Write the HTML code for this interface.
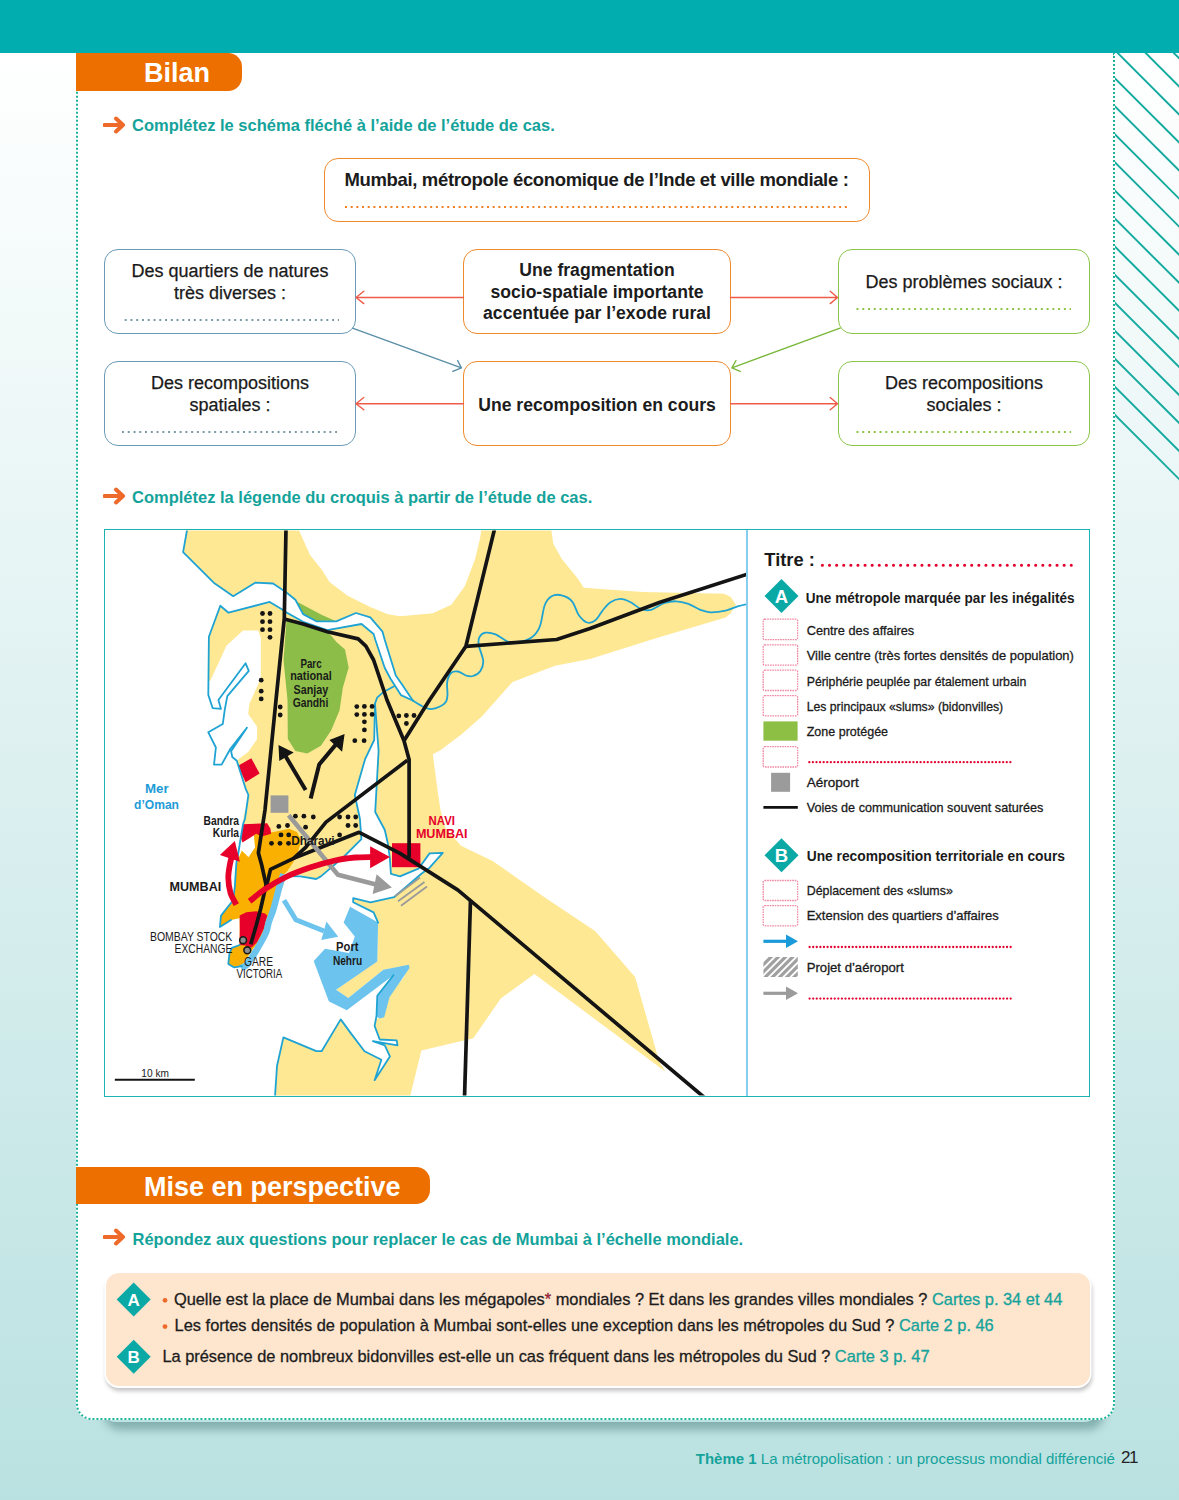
<!DOCTYPE html>
<html><head><meta charset="utf-8">
<style>
*{box-sizing:border-box;margin:0;padding:0}
html,body{width:1179px;height:1500px;overflow:hidden}
body{position:relative;font-family:"Liberation Sans",sans-serif;background:linear-gradient(to bottom,#ffffff 0px,#ffffff 53px,#bae1e1 1500px);}
.abs{position:absolute}
#topbar{left:0;top:0;width:1179px;height:53px;background:#02adaf}
#panelshadow{left:100px;top:1400px;width:1000px;height:22px;border-radius:0 0 16px 16px;box-shadow:4px 8px 9px rgba(0,60,60,0.3)}
#panel{left:76px;top:53px;width:1039px;height:1367px;background:#fff;border:2px dotted #1db39b;border-top:none;border-radius:0 0 16px 16px}
.tab{background:#ec6f00;color:#fff;font-weight:bold;border-radius:0 14px 14px 0}
.instr{color:#14a39b;font-weight:bold;font-size:16.5px;white-space:nowrap}
.box{position:absolute;border:1.8px solid;border-radius:14px;background:#fff;text-align:center;font-size:17.5px;color:#1a1a1a}
.orange{border-color:#ef8a2e}
.blue{border-color:#6a9cb8}
.green{border-color:#8cc54a}
.t18{font-size:18px;line-height:21.5px;color:#1a1a1a;white-space:nowrap;-webkit-text-stroke:0.25px #1a1a1a}
.t18b{font-size:17.6px;line-height:21.5px;font-weight:bold;color:#1c1c1c;white-space:nowrap}
.c{text-align:center}
.q{font-size:16.4px;line-height:20px;color:#1c1c1c;white-space:nowrap;-webkit-text-stroke:0.3px #1c1c1c}
.q .tl{-webkit-text-stroke:0.3px #14a39b}
.tl{color:#14a39b}
</style></head>
<body>
<div id="topbar" class="abs"></div>
<svg class="abs" style="left:1114px;top:53px" width="65" height="440" viewBox="0 0 65 440">
  <g stroke="#12a99e" stroke-width="1.9" fill="none">
<line x1="0" y1="361.0" x2="70" y2="431.0"/>
<line x1="0" y1="332.9" x2="70" y2="402.9"/>
<line x1="0" y1="304.9" x2="70" y2="374.9"/>
<line x1="0" y1="276.9" x2="70" y2="346.9"/>
<line x1="0" y1="248.8" x2="70" y2="318.8"/>
<line x1="0" y1="220.8" x2="70" y2="290.8"/>
<line x1="0" y1="192.7" x2="70" y2="262.7"/>
<line x1="0" y1="164.7" x2="70" y2="234.7"/>
<line x1="0" y1="136.6" x2="70" y2="206.6"/>
<line x1="0" y1="108.5" x2="70" y2="178.5"/>
<line x1="0" y1="80.5" x2="70" y2="150.5"/>
<line x1="0" y1="52.4" x2="70" y2="122.4"/>
<line x1="0" y1="24.4" x2="70" y2="94.4"/>
<line x1="0" y1="-3.7" x2="70" y2="66.3"/>
<line x1="0" y1="-31.7" x2="70" y2="38.3"/>
<line x1="0" y1="-59.8" x2="70" y2="10.2"/>
  </g>
</svg>
<div id="panelshadow" class="abs"></div>
<div id="panel" class="abs"></div>

<div class="abs tab" style="left:76px;top:53px;width:166px;height:38px;font-size:27px;line-height:41px;padding-left:68px">Bilan</div>


<!-- instruction 1 -->
<svg class="abs" style="left:103px;top:116px" width="25" height="18" viewBox="0 0 25 18"><path d="M1.5 9 H20 M13 2.5 L20 9 L13 15.5" stroke="#ee6a2a" stroke-width="4" fill="none" stroke-linecap="round" stroke-linejoin="round"/></svg>
<div class="abs instr" style="left:132px;top:115px;line-height:20px">Complétez le schéma fléché à l’aide de l’étude de cas.</div>

<!-- diagram boxes -->
<div class="box orange" style="left:324px;top:158px;width:546px;height:64px"></div>
<div class="abs t18b" style="left:344.5px;top:169px;white-space:nowrap;font-size:18.5px;letter-spacing:-0.35px">Mumbai, métropole économique de l’Inde et ville mondiale :</div>

<div class="box blue" style="left:104px;top:249px;width:252px;height:85px"></div>
<div class="abs t18 c" style="left:104px;width:252px;top:261px">Des quartiers de natures<br>très diverses :</div>

<div class="box orange" style="left:463px;top:249px;width:268px;height:85px"></div>
<div class="abs t18b c" style="left:463px;width:268px;top:260px">Une fragmentation<br>socio-spatiale importante<br>accentuée par l’exode rural</div>

<div class="box green" style="left:838px;top:249px;width:252px;height:85px"></div>
<div class="abs t18 c" style="left:838px;width:252px;top:272px">Des problèmes sociaux :</div>

<div class="box blue" style="left:104px;top:361px;width:252px;height:85px"></div>
<div class="abs t18 c" style="left:104px;width:252px;top:373px">Des recompositions<br>spatiales :</div>

<div class="box orange" style="left:463px;top:361px;width:268px;height:85px"></div>
<div class="abs t18b c" style="left:463px;width:268px;top:395px">Une recomposition en cours</div>

<div class="box green" style="left:838px;top:361px;width:252px;height:85px"></div>
<div class="abs t18 c" style="left:838px;width:252px;top:373px">Des recompositions<br>sociales :</div>

<svg class="abs" style="left:0;top:0" width="1179" height="470" viewBox="0 0 1179 470">
 <g fill="none" stroke-linecap="butt" stroke-linejoin="round">
  <line x1="345" y1="207" x2="848" y2="207" stroke="#ee7f22" stroke-width="2" stroke-dasharray="2 3.68"/>
  <line x1="124.7" y1="320" x2="339" y2="320" stroke="#7d9aa8" stroke-width="2" stroke-dasharray="2 3.76"/>
  <line x1="122" y1="432" x2="337" y2="432" stroke="#7d9aa8" stroke-width="2" stroke-dasharray="2 3.76"/>
  <line x1="856.5" y1="309" x2="1071" y2="309" stroke="#8cc54a" stroke-width="2" stroke-dasharray="2 3.76"/>
  <line x1="856.5" y1="432" x2="1071" y2="432" stroke="#8cc54a" stroke-width="2" stroke-dasharray="2 3.76"/>
 </g>
 <g fill="none" stroke="#ef5b4a" stroke-width="1.4" stroke-linecap="round" stroke-linejoin="round">
  <path d="M463.5 297.5 H356 M363.8 291.3 L356 297.5 L363.8 303.6"/>
  <path d="M730.5 297.5 H837.5 M830.2 291.3 L837.5 297.5 L830.2 303.6"/>
  <path d="M463.5 403.7 H356 M363.8 397.5 L356 403.7 L363.8 409.8"/>
  <path d="M730.5 403.7 H837.5 M830.2 397.5 L837.5 403.7 L830.2 409.8"/>
 </g>
 <path d="M352.5 328.1 L461.4 367.9 M457.6 360.5 L461.4 367.9 L452.8 371.4" fill="none" stroke="#5a8ea8" stroke-width="1.4" stroke-linecap="round" stroke-linejoin="round"/>
 <path d="M840 328.1 L731.9 367.9 M736 360.5 L731.9 367.9 L740.2 371.4" fill="none" stroke="#7ab83a" stroke-width="1.4" stroke-linecap="round" stroke-linejoin="round"/>
</svg>


<!-- instruction 2 -->
<svg class="abs" style="left:103px;top:487px" width="25" height="18" viewBox="0 0 25 18"><path d="M1.5 9 H20 M13 2.5 L20 9 L13 15.5" stroke="#ee6a2a" stroke-width="4" fill="none" stroke-linecap="round" stroke-linejoin="round"/></svg>
<div class="abs instr" style="left:132px;top:487px;line-height:20px">Complétez la légende du croquis à partir de l’étude de cas.</div>
<div class="abs" style="left:104px;top:529px;width:986px;height:568px;border:1.8px solid #1ab3b1;background:#fff"></div>
<div class="abs" style="left:746px;top:530px;width:1.6px;height:566px;background:#86cdef"></div>

<svg class="abs" style="left:0;top:0" width="1179" height="1100" viewBox="0 0 1179 1100">
<defs><clipPath id="mc"><rect x="105" y="530.5" width="641" height="565"/></clipPath></defs>
<g clip-path="url(#mc)">
<path fill="#fee894" d="M187.4,520.0 L294.4,520.0 L310.0,555.0 L322.0,570.0 L329.5,582.0 L347.2,595.4 L369.2,606.4 L387.0,614.0 L400.0,616.3 L432.7,613.2 L451.3,604.7 L464.9,586.1 L475.1,558.9 L480.0,538.6 L482.9,520.0 L549.9,520.0 L553.3,543.7 L561.8,558.9 L577.0,577.6 L583.8,587.8 L643.2,592.0 L724.0,593.7 L730.8,597.1 L735.9,604.7 L730.8,613.2 L725.7,617.5 L660.0,637.0 L590.0,659.0 L555.0,665.8 L512.6,681.9 L503.1,692.6 L482.1,716.3 L461.0,734.7 L440.0,750.4 L432.8,754.3 L437.5,790.0 L440.5,810.0 L445.5,828.0 L461.0,845.8 L492.6,860.9 L545.2,897.7 L595.4,931.3 L635.1,977.1 L659.5,1062.6 L665.6,1071.8 L534.4,974.0 L500.8,998.5 L473.3,1038.2 L421.4,1050.4 L409.2,1100.0 L275.0,1100.0 L277.0,1066.0 L283.4,1037.4 L316.3,1051.2 L321.6,1051.2 L340.7,1019.4 L350.0,1032.1 L364.5,1051.3 L381.4,1059.8 L374.6,1080.2 L389.9,1056.4 L384.8,1045.4 L372.9,1041.2 L397.5,1045.4 L396.7,1040.3 L379.7,1039.5 L374.6,1025.9 L375.5,1019.0 L383.7,1017.0 L387.4,997.3 L404.0,977.0 L408.0,965.6 L383.4,969.8 L348.3,998.1 L336.1,989.7 L377.2,961.0 L378.1,922.6 L373.6,912.4 L353.2,902.3 L353.2,898.2 L370.5,902.3 L394.0,897.2 L421.4,873.8 L429.6,867.7 L442.8,852.9 L429.6,853.4 L418.4,868.7 L400.0,876.3 L390.9,873.8 L389.9,858.5 L387.8,843.2 L384.8,830.0 L375.2,812.0 L378.6,750.9 L375.5,703.6 L374.2,740.0 L365.0,759.4 L354.8,795.0 L359.9,818.7 L361.4,839.2 L344.1,856.5 L320.9,876.4 L316.2,879.0 L295.9,874.0 L287.0,876.0 L282.6,887.0 L276.0,909.0 L270.5,920.0 L267.2,934.3 L257.3,949.7 L246.3,964.0 L241.9,966.2 L234.2,967.4 L228.3,963.9 L229.5,953.2 L231.9,947.9 L239.6,945.0 L239.8,930.0 L239.7,918.0 L231.0,920.0 L219.9,927.0 L221.0,915.6 L233.1,900.2 L234.8,887.0 L236.4,862.8 L241.9,850.7 L248.5,857.3 L255.1,847.4 L254.0,835.3 L241.9,841.9 L240.8,837.5 L243.0,824.3 L244.1,810.0 L245.0,818.7 L248.4,795.0 L245.6,788.6 L236.8,760.5 L248.2,751.9 L257.0,739.2 L257.0,726.6 L248.2,713.9 L249.4,703.8 L260.8,678.5 L260.8,638.0 L258.3,630.4 L243.1,630.4 L226.6,645.6 L210.2,681.0 L208.5,681.0 L208.9,636.7 L220.3,605.7 L233.2,596.2 L213.7,582.7 L183.1,552.1 Z"/>
<path fill="#fff" d="M233.2,596.2 L255.2,582.7 L273.0,583.5 L285.8,592.0 L295.4,599.8 L303.1,614.1 L316.3,621.3 L336.2,621.3 L356.0,613.0 L370.3,617.4 L382.5,631.7 L384.8,640.0 L395.8,675.6 L401.7,684.1 L412.8,700.5 L400.9,695.1 L390.7,679.0 L384.8,668.0 L375.4,640.0 L373.6,634.0 L361.5,624.0 L327.3,630.1 L303.1,621.8 L285.4,611.9 L282.3,609.5 L269.7,601.9 L228.5,612.7 L220.3,605.7 Z"/>
<path fill="#8bbd48" d="M286.5,620.7 L303.1,624.5 L327.3,632.2 L331.7,636.2 L336.2,641.7 L345.0,649.4 L348.7,667.5 L342.8,687.8 L339.6,710.2 L331.1,730.5 L320.9,745.8 L307.3,753.4 L295.4,750.9 L287.8,739.0 L287.5,700.0 L283.5,660.0 Z"/>
<path fill="#8bbd48" d="M296.5,601.4 L303.1,614.1 L316.3,621.3 L336.2,621.3 L322.0,615.0 Z"/>
<path fill="#6cc4ee" d="M350.1,906.8 L378.1,922.6 L377.3,961.5 L336.1,989.7 L348.3,998.1 L383.4,969.8 L408.8,964.8 L409.5,968.0 L389.5,997.3 L384.2,1017.2 L379.6,1018.5 L376.6,1016.4 L377.3,995.8 L393.4,975.2 L346.8,1010.3 L330.0,1001.9 L328.7,1001.0 L313.7,960.9 L325.0,948.8 L349.0,953.0 L354.8,936.6 L343.6,922.6 Z"/>
<path fill="#f9b000" d="M256.2,833.7 L273.8,832.0 L289.2,828.7 L296.9,832.0 L301.3,840.8 L298.0,851.8 L293.6,861.7 L287.0,871.6 L282.0,876.0 L279.0,884.8 L273.5,902.4 L269.5,914.5 L265.5,928.8 L259.0,942.0 L251.8,950.0 L248.0,956.0 L244.0,963.0 L241.9,966.5 L234.2,967.4 L228.3,963.9 L229.5,953.2 L231.9,947.9 L239.6,945.0 L239.8,930.0 L239.7,918.0 L231.0,920.0 L219.9,927.0 L221.0,915.6 L233.1,900.2 L234.8,887.0 L236.4,862.8 L241.9,850.7 L248.5,857.3 L255.1,847.4 L254.0,835.3 Z"/>
<path fill="#e6002a" d="M243.0,824.3 L267.2,823.2 L270.5,828.7 L271.1,833.7 L261.7,836.4 L256.2,833.7 L254.0,835.3 L242.5,842.5 L240.8,837.5 Z"/>
<path fill="#e6002a" d="M239.7,915.6 L246.3,912.3 L256.2,911.2 L265.0,913.4 L267.2,915.6 L263.9,928.8 L257.3,942.0 L251.8,947.5 L245.0,945.5 L239.6,945.0 L239.8,930.0 Z"/>
<path fill="#e6002a" d="M238.0,765.8 L251.3,758.2 L259.6,773.4 L245.6,782.3 Z"/>
<rect x="392" y="843.2" width="28.4" height="24" fill="#e6002a"/>
<path fill="none" stroke="#6cc4ee" stroke-width="6.5" stroke-linejoin="round" d="M283.5,874.0 C283.2,875.0 282.3,877.3 281.5,880.0 C280.7,882.7 279.8,885.2 278.5,890.0 C277.2,894.8 275.1,903.7 273.5,909.0 C271.9,914.3 270.1,918.0 268.8,922.0 C267.5,926.0 267.9,928.3 265.8,933.0 C263.8,937.7 259.6,944.8 256.5,950.0 C253.4,955.2 249.6,961.5 247.0,964.5 C244.4,967.5 242.0,967.4 241.0,968.0"/>
<g fill="none" stroke="#1fa3d3" stroke-width="1.8" stroke-linejoin="round" stroke-linecap="round">
<path d="M187.4,528.0 L183.1,552.1 L213.7,582.7 L233.2,596.2 L255.2,582.7 L273.0,583.5 L285.8,592.0 L295.4,599.8 L303.1,614.1 L316.3,621.3 L336.2,621.3 L356.0,613.0 L370.3,617.4 L382.5,631.7 L384.8,640.0 L395.8,675.6 L401.7,684.1 L412.8,700.5"/>
<path d="M412.8,700.5 L400.9,695.1 L390.7,679.0 L384.8,668.0 L375.4,640.0 L373.6,634.0 L361.5,624.0 L327.3,630.1 L303.1,621.8 L285.4,611.9 L282.3,609.5 L269.7,601.9 L228.5,612.7 L220.3,605.7 L208.9,636.7 L208.3,694.9 L212.7,708.2 L221.0,708.9 L218.4,700.0 L245.6,663.3 L248.8,670.9 L227.3,696.2 L224.7,710.1 L222.8,724.0 L208.3,732.3 L215.9,747.5 L214.0,764.6 L221.6,764.6 L230.4,748.7 L246.9,727.8 L231.1,751.3 L232.3,757.0 L236.8,760.8 L245.6,788.6 L248.4,795.0 L245.0,818.7 L243.0,824.3 L240.8,837.5 L238.0,855.0 L236.4,862.8 L234.8,887.0 L233.1,900.2 L221.0,915.6 L219.9,927.0 L231.0,920.0"/>
<path d="M239.6,945.0 L231.9,947.9 L229.5,953.2 L228.3,963.9 L234.2,967.4 L241.9,966.2"/>
<path d="M394.1,686.2 L383.9,691.7 L377.1,697.7 L375.0,703.6 L374.2,740.0 L365.0,759.4 L354.8,795.0 L359.9,818.7 L361.4,839.2 L344.1,856.5 L320.9,876.4 L316.2,879.0 L300.5,876.4 L287.0,876.0"/>
<path d="M375.0,703.6 L378.6,750.9 L375.2,812.0 L384.8,830.0 L387.8,843.2 L389.9,858.5 L390.9,873.8 L400.0,876.3 L418.4,868.7 L429.6,853.4 L442.8,852.9 L429.6,867.7 L421.4,873.8 L394.0,897.2 L370.5,902.3 L353.2,898.2 L353.2,902.3 L373.6,912.4 L378.1,922.6"/>
<path d="M274.9,1098.0 L277.0,1066.0 L283.4,1037.4 L316.3,1051.2 L321.6,1051.2 L340.7,1019.4 L350.0,1032.1 L364.5,1051.3 L381.4,1059.8 L374.6,1080.2 L389.9,1056.4 L384.8,1045.4 L372.9,1041.2 L397.5,1045.4 L396.7,1040.3 L379.7,1039.5 L374.6,1025.9 L376.5,1016.0 L377.3,995.8 L393.4,975.2"/>
<path d="M412.8,700.5 C414.6,701.6 420.8,705.6 423.8,707.0 C426.8,708.4 428.3,709.2 431.0,709.1 C433.7,709.0 437.5,707.7 440.0,706.5 C442.5,705.3 444.6,703.9 445.8,702.0 C447.1,700.1 447.3,698.4 447.5,695.1 C447.7,691.8 446.6,685.7 447.2,682.0 C447.8,678.3 449.2,674.8 451.0,673.0 C452.8,671.2 455.5,671.1 458.0,671.5 C460.5,671.9 463.5,674.8 466.0,675.5 C468.5,676.2 470.6,676.8 473.0,676.0 C475.4,675.2 478.7,673.4 480.4,670.9 C482.1,668.4 483.5,665.0 483.2,660.7 C482.9,656.4 479.3,649.0 478.7,645.0 C478.1,641.0 478.4,639.0 479.5,637.0 C480.6,635.0 482.7,633.1 485.4,632.7 C488.1,632.3 491.9,632.9 495.6,634.4 C499.3,635.9 503.8,640.2 507.5,641.5 C511.2,642.8 514.0,642.6 518.0,642.0 C522.0,641.4 527.6,640.2 531.2,637.7 C534.8,635.2 537.4,632.2 539.7,626.8 C542.0,621.3 542.8,610.1 544.8,605.0 C546.8,599.9 548.8,597.8 551.6,596.2 C554.4,594.6 558.4,594.5 561.8,595.4 C565.2,596.2 569.2,598.0 572.0,601.3 C574.8,604.5 576.2,611.4 578.7,614.9 C581.2,618.4 584.4,621.6 587.2,622.5 C590.0,623.4 593.1,622.1 595.7,620.0 C598.3,617.9 600.5,613.0 603.0,610.0 C605.5,607.0 607.5,604.1 610.4,602.2 C613.3,600.3 617.1,598.8 620.5,598.8 C623.9,598.8 627.3,600.5 630.7,602.2 C634.1,603.9 637.5,607.7 640.9,609.0 C644.3,610.3 647.1,610.8 651.1,609.8 C655.1,608.8 660.4,604.4 664.6,603.0 C668.8,601.6 672.5,601.1 676.5,601.3 C680.5,601.4 684.4,602.5 688.4,603.9 C692.4,605.3 696.6,608.4 700.3,609.8 C704.0,611.2 706.2,612.2 710.4,612.4 C714.6,612.5 721.2,611.7 725.7,610.7 C730.2,609.7 733.9,607.5 737.6,606.4 C741.3,605.3 746.3,604.3 748.0,603.9"/>
</g>
<path d="M284,900.2 L295.9,919.7 L324,931" fill="none" stroke="#6cc4ee" stroke-width="5"/>
<path d="M338.3,936.7 L326.4,921.4 L321.3,940.1 Z" fill="#6cc4ee"/>
<g fill="none" stroke="#141414" stroke-width="3.7" stroke-linejoin="round">
<path d="M286.0,528.0 L284.3,618.5 L276.0,700.0 L265.0,810.0 L258.4,852.9 L261.7,865.0 L266.1,884.8 L260.6,909.0 L256.2,925.5 L250.7,944.2"/>
<path d="M266.5,886.0 L270.5,869.4 L293.6,858.4 L305.7,847.4 L326.0,822.1 L407.4,760.2"/>
<path d="M293.6,858.4 L310.0,851.8 L359.1,832.3 L400.0,853.4 L458.0,890.1 L705.0,1098.0"/>
<path d="M284.3,619.0 L303.1,624.0 L327.3,631.7 L358.2,638.9 L365.9,646.1 L373.6,660.0 L387.0,700.0 L404.0,740.7 L409.1,759.4 L409.1,857.5"/>
<path d="M494.8,528.0 L465.9,646.3 L429.5,700.0 L404.0,740.7"/>
<path d="M465.9,646.3 L556.7,639.5 L590.0,628.5 L660.0,602.2 L748.0,574.0"/>
<path d="M470.5,900.0 L464.5,1098.0"/>
</g>
<line x1="114.8" y1="1079.8" x2="194.8" y2="1079.8" stroke="#141414" stroke-width="2"/>
<g fill="#141414">
<circle cx="262.5" cy="613.5" r="2.4"/>
<circle cx="270.0" cy="613.5" r="2.4"/>
<circle cx="262.5" cy="621.7" r="2.4"/>
<circle cx="270.0" cy="621.7" r="2.4"/>
<circle cx="262.5" cy="629.7" r="2.4"/>
<circle cx="270.0" cy="629.7" r="2.4"/>
<circle cx="270.0" cy="637.3" r="2.4"/>
<circle cx="261.2" cy="680.2" r="2.4"/>
<circle cx="261.2" cy="691.2" r="2.4"/>
<circle cx="261.2" cy="698.9" r="2.4"/>
<circle cx="280.2" cy="707.0" r="2.4"/>
<circle cx="280.2" cy="715.0" r="2.4"/>
<circle cx="356.8" cy="706.6" r="2.4"/>
<circle cx="364.4" cy="706.4" r="2.4"/>
<circle cx="372.1" cy="706.4" r="2.4"/>
<circle cx="356.8" cy="714.6" r="2.4"/>
<circle cx="364.4" cy="714.4" r="2.4"/>
<circle cx="372.1" cy="714.4" r="2.4"/>
<circle cx="364.4" cy="721.8" r="2.4"/>
<circle cx="364.4" cy="729.9" r="2.4"/>
<circle cx="354.8" cy="740.7" r="2.4"/>
<circle cx="364.1" cy="740.7" r="2.4"/>
<circle cx="398.8" cy="715.9" r="2.4"/>
<circle cx="406.4" cy="715.5" r="2.4"/>
<circle cx="414.0" cy="715.5" r="2.4"/>
<circle cx="406.4" cy="723.5" r="2.4"/>
<circle cx="295.4" cy="816.2" r="2.4"/>
<circle cx="303.9" cy="816.2" r="2.4"/>
<circle cx="313.3" cy="817.0" r="2.4"/>
<circle cx="278.8" cy="826.4" r="2.4"/>
<circle cx="287.5" cy="825.5" r="2.4"/>
<circle cx="305.6" cy="827.2" r="2.4"/>
<circle cx="339.6" cy="817.0" r="2.4"/>
<circle cx="348.0" cy="817.0" r="2.4"/>
<circle cx="355.7" cy="817.0" r="2.4"/>
<circle cx="348.0" cy="825.5" r="2.4"/>
<circle cx="355.7" cy="825.5" r="2.4"/>
<circle cx="339.6" cy="834.9" r="2.4"/>
<circle cx="281.0" cy="834.9" r="2.4"/>
<circle cx="288.7" cy="834.9" r="2.4"/>
<circle cx="271.5" cy="843.3" r="2.4"/>
<circle cx="280.0" cy="843.3" r="2.4"/>
<circle cx="288.5" cy="843.3" r="2.4"/>
</g>
<g fill="none" stroke="#141414" stroke-width="4">
<path d="M305.6,789.9 L284.4,754.3"/>
<path d="M310.7,798.4 L319.2,764.5 L336.2,744.1"/>
</g>
<path fill="#141414" d="M278.5,745 L293.7,752.6 L279.3,761.1 Z M344.6,733.9 L329.4,739.9 L342.1,751.7 Z"/>
<rect x="270.6" y="795.4" width="17.8" height="17.4" fill="#9a9a9a"/>
<path d="M288.7,815.3 L337.9,874.7 L376,884.5" fill="none" stroke="#9a9a9a" stroke-width="4.5" stroke-linejoin="round"/>
<path d="M391.9,887.5 L376.6,874.3 L372.6,894.1 Z" fill="#9a9a9a"/>
<g stroke="#9a9a9a" stroke-width="1.8"><line x1="395" y1="896.2" x2="420" y2="877.5"/><line x1="398" y1="901.2" x2="424.5" y2="881.9"/><line x1="401" y1="905.8" x2="427" y2="886.5"/></g>
<path d="M236.4,904.6 C235.4,902.7 231.8,897.4 230.5,893.0 C229.2,888.6 228.4,882.7 228.3,878.0 C228.2,873.3 229.2,868.7 229.8,865.0 C230.4,861.3 231.6,857.5 232.0,856.0" fill="none" stroke="#e6002a" stroke-width="5.8"/>
<path d="M234.8,841 L219.9,855.1 L239.9,861.7 Z" fill="#e6002a"/>
<path d="M249.6,901.3 C252.2,899.3 258.8,893.3 265.0,889.2 C271.2,885.1 279.5,880.1 287.0,876.5 C294.5,872.9 302.0,870.2 310.0,867.5 C318.0,864.8 327.5,862.2 335.0,860.5 C342.5,858.8 348.8,858.1 355.0,857.5 C361.2,856.9 369.2,857.1 372.0,857.0" fill="none" stroke="#e6002a" stroke-width="5.8"/>
<path d="M390,856.9 L370.1,846.2 L370.1,868.2 Z" fill="#e6002a"/>
<g fill="#8e8e8e" stroke="#1a1a1a" stroke-width="1.6"><circle cx="243.1" cy="940.2" r="3.4"/><circle cx="247.3" cy="950.3" r="3.4"/></g>
<g font-family="Liberation Sans, sans-serif">
<text x="300.4" y="667.5" font-size="12" font-weight="bold" fill="#1a1a1a" textLength="21.2" lengthAdjust="spacingAndGlyphs">Parc</text>
<text x="290.2" y="680.2" font-size="12" font-weight="bold" fill="#1a1a1a" textLength="41.5" lengthAdjust="spacingAndGlyphs">national</text>
<text x="293.6" y="693.5" font-size="12" font-weight="bold" fill="#1a1a1a" textLength="34.7" lengthAdjust="spacingAndGlyphs">Sanjay</text>
<text x="292.7" y="706.7" font-size="12" font-weight="bold" fill="#1a1a1a" textLength="35.6" lengthAdjust="spacingAndGlyphs">Gandhi</text>
<text x="145.0" y="792.5" font-size="12.5" font-weight="bold" fill="#1e9bd7" textLength="23.7" lengthAdjust="spacingAndGlyphs">Mer</text>
<text x="134.0" y="808.6" font-size="12.5" font-weight="bold" fill="#1e9bd7" textLength="45.0" lengthAdjust="spacingAndGlyphs">d’Oman</text>
<text x="203.5" y="824.7" font-size="12" font-weight="bold" fill="#1a1a1a" textLength="35.5" lengthAdjust="spacingAndGlyphs">Bandra</text>
<text x="212.8" y="837.4" font-size="12" font-weight="bold" fill="#1a1a1a" textLength="26.2" lengthAdjust="spacingAndGlyphs">Kurla</text>
<text x="169.5" y="890.9" font-size="12" font-weight="bold" fill="#1a1a1a" textLength="51.8" lengthAdjust="spacingAndGlyphs">MUMBAI</text>
<text x="150.0" y="941.0" font-size="12" font-weight="normal" fill="#1a1a1a" textLength="82.3" lengthAdjust="spacingAndGlyphs">BOMBAY STOCK</text>
<text x="174.6" y="952.8" font-size="12" font-weight="normal" fill="#1a1a1a" textLength="57.7" lengthAdjust="spacingAndGlyphs">EXCHANGE</text>
<text x="244.1" y="965.5" font-size="12" font-weight="normal" fill="#1a1a1a" textLength="28.9" lengthAdjust="spacingAndGlyphs">GARE</text>
<text x="236.5" y="978.3" font-size="12" font-weight="normal" fill="#1a1a1a" textLength="45.8" lengthAdjust="spacingAndGlyphs">VICTORIA</text>
<text x="291.2" y="845.0" font-size="12" font-weight="bold" fill="#1a1a1a" textLength="43.3" lengthAdjust="spacingAndGlyphs">Dharavi</text>
<text x="428.6" y="824.7" font-size="12" font-weight="bold" fill="#e6002a" textLength="26.3" lengthAdjust="spacingAndGlyphs">NAVI</text>
<text x="415.9" y="838.2" font-size="12" font-weight="bold" fill="#e6002a" textLength="51.7" lengthAdjust="spacingAndGlyphs">MUMBAI</text>
<text x="336.1" y="950.6" font-size="12" font-weight="bold" fill="#1a1a1a" textLength="22.4" lengthAdjust="spacingAndGlyphs">Port</text>
<text x="332.9" y="964.6" font-size="12" font-weight="bold" fill="#1a1a1a" textLength="29.3" lengthAdjust="spacingAndGlyphs">Nehru</text>
<text x="141.3" y="1076.6" font-size="10" font-weight="normal" fill="#1a1a1a" textLength="27.6" lengthAdjust="spacingAndGlyphs">10 km</text>
</g>
</g>
</svg>
<svg class="abs" style="left:0;top:0" width="1179" height="1100" viewBox="0 0 1179 1100">
<g font-family="Liberation Sans, sans-serif">
<text x="764.3" y="566.2" font-size="17.5" font-weight="bold" fill="#1a1a1a" textLength="50.5" lengthAdjust="spacingAndGlyphs">Titre :</text>
<line x1="822.4" y1="565.2" x2="1077.0" y2="565.2" stroke="#e3002d" stroke-width="3.1" stroke-dasharray="0.01 7.1" stroke-linecap="round"/>
<path d="M781.5,579.0 L798.5,596.0 L781.5,613.0 L764.5,596.0 Z" fill="#0aa9a5"/><text x="781.5" y="602.6" font-size="18.5" font-weight="bold" fill="#fff" text-anchor="middle">A</text>
<text x="805.8" y="602.7" font-size="14.5" font-weight="bold" fill="#1a1a1a" textLength="268.7" lengthAdjust="spacingAndGlyphs">Une métropole marquée par les inégalités</text>
<rect x="763.2" y="619.2" width="34.4" height="20.5" rx="1.5" fill="none" stroke="#ee87a2" stroke-width="1.3" stroke-dasharray="1.6 0.9"/>
<text x="806.7" y="634.6" font-size="13.5" font-weight="normal" fill="#1a1a1a" stroke="#1a1a1a" stroke-width="0.3" textLength="107.5" lengthAdjust="spacingAndGlyphs">Centre des affaires</text>
<rect x="763.2" y="644.8" width="34.4" height="20.4" rx="1.5" fill="none" stroke="#ee87a2" stroke-width="1.3" stroke-dasharray="1.6 0.9"/>
<text x="806.7" y="660.4" font-size="13.5" font-weight="normal" fill="#1a1a1a" stroke="#1a1a1a" stroke-width="0.3" textLength="267.2" lengthAdjust="spacingAndGlyphs">Ville centre (très fortes densités de population)</text>
<rect x="763.2" y="670.2" width="34.4" height="20.3" rx="1.5" fill="none" stroke="#ee87a2" stroke-width="1.3" stroke-dasharray="1.6 0.9"/>
<text x="806.7" y="685.8" font-size="13.5" font-weight="normal" fill="#1a1a1a" stroke="#1a1a1a" stroke-width="0.3" textLength="219.7" lengthAdjust="spacingAndGlyphs">Périphérie peuplée par étalement urbain</text>
<rect x="763.2" y="695.6" width="34.4" height="20.3" rx="1.5" fill="none" stroke="#ee87a2" stroke-width="1.3" stroke-dasharray="1.6 0.9"/>
<text x="806.7" y="711.0" font-size="13.5" font-weight="normal" fill="#1a1a1a" stroke="#1a1a1a" stroke-width="0.3" textLength="196.5" lengthAdjust="spacingAndGlyphs">Les principaux «slums» (bidonvilles)</text>
<rect x="763.4" y="721.4" width="34.2" height="19.3" fill="#8dbf45"/>
<text x="806.7" y="736.3" font-size="13.5" font-weight="normal" fill="#1a1a1a" stroke="#1a1a1a" stroke-width="0.3" textLength="81.4" lengthAdjust="spacingAndGlyphs">Zone protégée</text>
<rect x="763.2" y="746.7" width="34.4" height="20.3" rx="1.5" fill="none" stroke="#ee87a2" stroke-width="1.3" stroke-dasharray="1.6 0.9"/>
<line x1="809.3" y1="762.2" x2="1011.0" y2="762.2" stroke="#e3002d" stroke-width="2.3" stroke-dasharray="0.01 3.58" stroke-linecap="round"/>
<rect x="771.1" y="772.8" width="19" height="19" fill="#9b9b9b"/>
<text x="806.7" y="786.8" font-size="13.5" font-weight="normal" fill="#1a1a1a" stroke="#1a1a1a" stroke-width="0.3" textLength="52.0" lengthAdjust="spacingAndGlyphs">Aéroport</text>
<line x1="763.4" y1="807.3" x2="797.8" y2="807.3" stroke="#111" stroke-width="2.8"/>
<text x="806.7" y="812.0" font-size="13.5" font-weight="normal" fill="#1a1a1a" stroke="#1a1a1a" stroke-width="0.3" textLength="236.6" lengthAdjust="spacingAndGlyphs">Voies de communication souvent saturées</text>
<path d="M781.5,838.2 L798.5,855.2 L781.5,872.2 L764.5,855.2 Z" fill="#0aa9a5"/><text x="781.5" y="861.8" font-size="18.5" font-weight="bold" fill="#fff" text-anchor="middle">B</text>
<text x="806.7" y="860.6" font-size="14.5" font-weight="bold" fill="#1a1a1a" textLength="258.3" lengthAdjust="spacingAndGlyphs">Une recomposition territoriale en cours</text>
<rect x="763.2" y="880.5" width="34.4" height="20.0" rx="1.5" fill="none" stroke="#ee87a2" stroke-width="1.3" stroke-dasharray="1.6 0.9"/>
<text x="806.7" y="894.7" font-size="13.5" font-weight="normal" fill="#1a1a1a" stroke="#1a1a1a" stroke-width="0.3" textLength="146.1" lengthAdjust="spacingAndGlyphs">Déplacement des «slums»</text>
<rect x="763.2" y="905.7" width="34.4" height="20.1" rx="1.5" fill="none" stroke="#ee87a2" stroke-width="1.3" stroke-dasharray="1.6 0.9"/>
<text x="806.7" y="919.6" font-size="13.5" font-weight="normal" fill="#1a1a1a" stroke="#1a1a1a" stroke-width="0.3" textLength="192.1" lengthAdjust="spacingAndGlyphs">Extension des quartiers d’affaires</text>
<line x1="763.4" y1="941.3" x2="788" y2="941.3" stroke="#1b9ad9" stroke-width="3.2"/>
<path d="M798,941.3 L786,934.5 L786,948.1 Z" fill="#1b9ad9"/>
<line x1="809.6" y1="947.0" x2="1011.0" y2="947.0" stroke="#e3002d" stroke-width="2.3" stroke-dasharray="0.01 3.58" stroke-linecap="round"/>
<defs><clipPath id="hc"><rect x="763.4" y="957" width="34.4" height="20"/></clipPath></defs>
<g clip-path="url(#hc)" stroke="#a0a0a0" stroke-width="3.2">
<line x1="749.0" y1="979" x2="773.0" y2="955"/>
<line x1="756.2" y1="979" x2="780.2" y2="955"/>
<line x1="763.4" y1="979" x2="787.4" y2="955"/>
<line x1="770.6" y1="979" x2="794.6" y2="955"/>
<line x1="777.8" y1="979" x2="801.8" y2="955"/>
<line x1="785.0" y1="979" x2="809.0" y2="955"/>
<line x1="792.2" y1="979" x2="816.2" y2="955"/>
<line x1="799.4" y1="979" x2="823.4" y2="955"/>
<line x1="806.6" y1="979" x2="830.6" y2="955"/>
<line x1="813.8" y1="979" x2="837.8" y2="955"/>
</g>
<text x="806.7" y="971.9" font-size="13.5" font-weight="normal" fill="#1a1a1a" stroke="#1a1a1a" stroke-width="0.3" textLength="97.1" lengthAdjust="spacingAndGlyphs">Projet d’aéroport</text>
<line x1="763.4" y1="993.3" x2="788" y2="993.3" stroke="#9b9b9b" stroke-width="3.2"/>
<path d="M798,993.3 L786,986.5 L786,1000.1 Z" fill="#9b9b9b"/>
<line x1="809.6" y1="998.6" x2="1011.0" y2="998.6" stroke="#e3002d" stroke-width="2.3" stroke-dasharray="0.01 3.58" stroke-linecap="round"/>
</g></svg>
<!-- Mise en perspective -->
<div class="abs tab" style="left:76px;top:1167px;width:354px;height:37px;font-size:27px;line-height:41px;padding-left:68px;white-space:nowrap">Mise en perspective</div>
<svg class="abs" style="left:103px;top:1228px" width="25" height="18" viewBox="0 0 25 18"><path d="M1.5 9 H20 M13 2.5 L20 9 L13 15.5" stroke="#ee6a2a" stroke-width="4" fill="none" stroke-linecap="round" stroke-linejoin="round"/></svg>
<div class="abs instr" style="left:132.5px;top:1228.5px;line-height:20px">Répondez aux questions pour replacer le cas de Mumbai à l’échelle mondiale.</div>

<div class="abs" style="left:106px;top:1273px;width:984px;height:113px;background:#fee5ce;border-radius:13px;box-shadow:0 0.5px 0 1.5px #fff,1px 4.5px 4px 0.5px rgba(0,0,0,0.24)"></div>
<svg class="abs" style="left:0;top:1270px" width="200" height="120" viewBox="0 1270 200 120">
 <path d="M133.7,1282.6 L150.7,1299.6 L133.7,1316.6 L116.7,1299.6 Z" fill="#0aa9a5"/>
 <text x="133.7" y="1305.8" font-family="Liberation Sans, sans-serif" font-size="17" font-weight="bold" fill="#fff" text-anchor="middle">A</text>
 <path d="M133.7,1339.8 L150.7,1356.8 L133.7,1373.8 L116.7,1356.8 Z" fill="#0aa9a5"/>
 <text x="133.7" y="1363" font-family="Liberation Sans, sans-serif" font-size="17" font-weight="bold" fill="#fff" text-anchor="middle">B</text>
 <circle cx="165" cy="1300.3" r="2.4" fill="#ee6a2a"/>
 <circle cx="165" cy="1326.6" r="2.4" fill="#ee6a2a"/>
</svg>
<div class="abs q" style="left:173.9px;top:1289px">Quelle est la place de Mumbai dans les mégapoles<span style="color:#e5173f">*</span> mondiales ? Et dans les grandes villes mondiales ? <span class="tl">Cartes p. 34 et 44</span></div>
<div class="abs q" style="left:174.6px;top:1315.2px">Les fortes densités de population à Mumbai sont-elles une exception dans les métropoles du Sud ? <span class="tl">Carte 2 p. 46</span></div>
<div class="abs q" style="left:162.4px;top:1345.5px">La présence de nombreux bidonvilles est-elle un cas fréquent dans les métropoles du Sud ? <span class="tl">Carte 3 p. 47</span></div>

<!-- footer -->
<div class="abs" style="left:695.8px;top:1449px;font-size:15px;line-height:20px;color:#14a39b;white-space:nowrap"><b>Thème 1</b> La métropolisation : un processus mondial différencié</div>
<div class="abs" style="left:1121px;top:1448px;font-size:17px;line-height:20px;color:#222;letter-spacing:-1.5px">21</div>

</body></html>
